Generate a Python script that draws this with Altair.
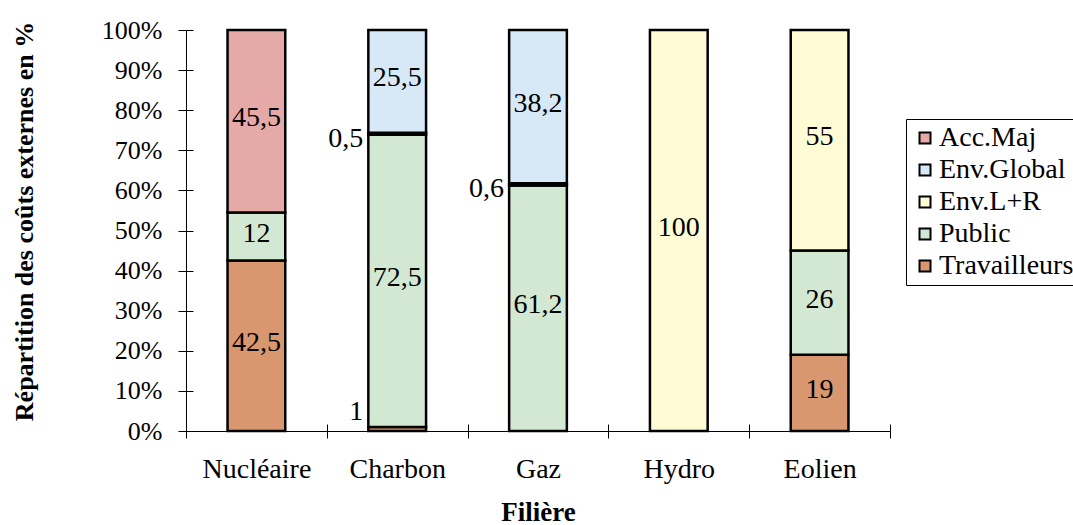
import altair as alt
import pandas as pd

# Share of external costs by generation type (values in %)
filieres = ["Nucléaire", "Charbon", "Gaz", "Hydro", "Eolien"]
travailleurs = [42.5, 1, 0, 0, 19]
public = [12, 72.5, 61.2, 0, 26]
env_lr = [0, 0.5, 0.6, 100, 55]
env_global = [0, 25.5, 38.2, 0, 0]
acc_maj = [45.5, 0, 0, 0, 0]

# stacking order, bottom to top
series = ["Travailleurs", "Public", "Env.L+R", "Env.Global", "Acc.Maj"]
series_values = [travailleurs, public, env_lr, env_global, acc_maj]
series_colors = ["#D8976F", "#D3E8D2", "#FFFBD4", "#D7E9F7", "#E5A9A8"]

rows = []
for rank, (name, vals) in enumerate(zip(series, series_values)):
    for f, v in zip(filieres, vals):
        rows.append({"filiere": f, "serie": name, "rank": rank, "value": v})
df = pd.DataFrame(rows)

legend_order = series[::-1]
legend_colors = series_colors[::-1]

FONT = "Liberation Serif"

base = (
    alt.Chart(df)
    .transform_filter("datum.value > 0")
    .transform_joinaggregate(total="sum(value)", groupby=["filiere"])
    .transform_calculate(pct="datum.value / datum.total")
    .transform_stack(stack="pct", groupby=["filiere"], sort=[alt.SortField("rank")], as_=["y0", "y1"])
    .transform_calculate(
        mid="(datum.y0 + datum.y1) / 2",
        lbl="replace(toString(datum.value), '.', ',')",
    )
)

x_scale = alt.Scale(paddingInner=0, paddingOuter=0)
y_scale = alt.Scale(domain=[0, 1], nice=False)

bars = base.mark_bar(width={"band": 0.41}, stroke="black", strokeWidth=2.5).encode(
    x=alt.X(
        "filiere:N",
        sort=filieres,
        scale=x_scale,
        axis=alt.Axis(
            orient="bottom",
            title="Filière",
            tickBand="extent",
            labelAngle=0,
            labelFont=FONT,
            labelFontSize=28,
            labelColor="black",
            labelPadding=17,
            tickSize=7,
            tickColor="black",
            domainColor="black",
            titleFont=FONT,
            titleFontSize=27,
            titleFontWeight="bold",
            titleColor="black",
            titleY=89,
            titleBaseline="alphabetic",
        ),
    ),
    y=alt.Y(
        "y0:Q",
        scale=y_scale,
        axis=alt.Axis(
            orient="left",
            format=".0%",
            values=[i / 10 for i in range(11)],
            grid=False,
            labelFont=FONT,
            labelFontSize=26,
            labelColor="black",
            labelPadding=16,
            tickSize=8,
            tickColor="black",
            domainColor="black",
            title="Répartition des coûts externes en %",
            titleFont=FONT,
            titleFontSize=26,
            titleFontWeight="bold",
            titleColor="black",
            titleX=-154,
            titleY=191,
            titleAlign="center",
            titleBaseline="alphabetic",
        ),
    ),
    y2="y1:Q",
    color=alt.Color(
        "serie:N",
        scale=alt.Scale(domain=legend_order, range=legend_colors),
        legend=alt.Legend(
            title=None,
            orient="none",
            legendX=720,
            legendY=89,
            strokeColor="black",
            padding=5,
            symbolType="square",
            symbolSize=121,
            symbolStrokeColor="black",
            symbolStrokeWidth=2,
            symbolOpacity=1,
            labelFont=FONT,
            labelFontSize=28,
            labelColor="black",
            labelOffset=0,
            labelLimit=300,
            rowPadding=4,
        ),
    ),
)

# value labels inside the segments; inner halves of the crossing ticks come from these axes
big_labels = (
    base.transform_filter("datum.value >= 2")
    .mark_text(font=FONT, fontSize=28, color="black", baseline="middle", dy=-3)
    .encode(
        x=alt.X(
            "filiere:N",
            sort=filieres,
            scale=x_scale,
            axis=alt.Axis(
                orient="bottom", offset=-7, tickBand="extent", tickSize=7,
                tickColor="black", domain=False, labels=False, title=None,
            ),
        ),
        y=alt.Y(
            "mid:Q",
            scale=y_scale,
            axis=alt.Axis(
                orient="left", offset=-7, values=[i / 10 for i in range(11)],
                tickSize=7, tickColor="black", domain=False, labels=False,
                title=None, grid=False,
            ),
        ),
        text="lbl:N",
    )
)

# labels of the very thin segments, set beside the bar
small_labels = (
    base.transform_filter("datum.value < 2")
    .transform_calculate(ypos="max(datum.mid, 0.06)")
    .mark_text(font=FONT, fontSize=28, color="black", align="right", baseline="middle", dx=-34, dy=5)
    .encode(
        x=alt.X("filiere:N", sort=filieres, scale=x_scale, axis=None),
        y=alt.Y("ypos:Q", scale=y_scale, axis=None),
        text="lbl:N",
    )
)

chart = (
    alt.layer(bars, big_labels, small_labels)
    .resolve_axis(x="independent", y="independent")
    .properties(
        width=704,
        height=401,
        autosize=alt.AutoSizeParams(type="none"),
        padding={"left": 186, "top": 30, "right": 183, "bottom": 94},
        background="white",
    )
    .configure_view(stroke=None)
    .configure_legend(strokeWidth=1)
)

chart.save("out.html", embed_options={"renderer": "svg", "actions": False})
